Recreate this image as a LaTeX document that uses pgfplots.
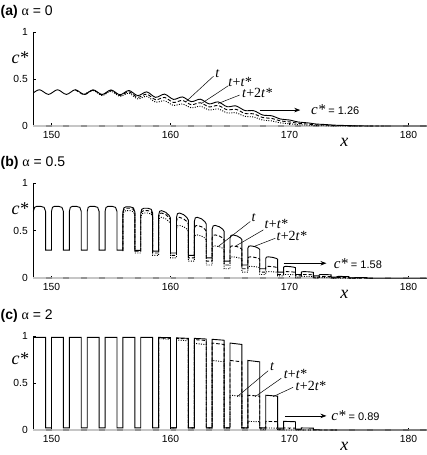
\documentclass[border=0pt]{standalone}
\usepackage{fontspec}
\setmainfont{Liberation Sans}
\newfontfamily\lserif{Liberation Serif}
\usepackage{pgfplots}
\pgfplotsset{compat=1.18}
\usepackage{pgfplotstable}
\usetikzlibrary{arrows.meta}

\pgfplotstableread{
x y
149.5 0
150 0
150 nan
151 0
151.5 0
151.5 nan
152.5 0
153 0
153 nan
154 0
154.5 0
154.5 nan
155.5 0
156 0
156 nan
157 0
157.5 0
157.5 nan
158.5 0
159 0
159 nan
160 0
160.5 0
160.5 nan
161.5 0
162 0
162 nan
163 0
163.5 0
163.5 nan
164.5 0
165 0
165 nan
166 0
166.5 0
166.5 nan
167.5 0
168 0
168 nan
169 0
169.5 0
169.5 nan
170.5 0
171 0
171 nan
172 0
172.5 0
172.5 nan
173.5 0
174 0
174 nan
175 0
175.5 0
175.5 nan
176.5 0
177 0
177 nan
178 0
178.5 0
178.5 nan
179.5 0
180 0
180 nan
181 0
181.5 0
}\basedash

\pgfplotsset{
  mypanel/.style={
    scale only axis, width=393.7pt,
    xmin=148.47, xmax=181.55, ymin=0, ymax=1, clip=false,
    axis lines*=left, x axis line style={draw=none},
    y axis line style={line width=0.5pt},
    xtick={150,160,170,180}, ytick={0,0.5,1},
    tick align=inside, major tick length=2.5pt,
    tick style={black, line width=0.4pt},
    ticklabel style={font=\fontsize{10.3}{12}\selectfont},
    /pgf/number format/assume math mode=true,
    xticklabel shift=1.5pt, yticklabel shift=2pt,
    anchor=south west, unbounded coords=jump,
  },
  solidc/.style={black, line width=0.9pt},
  dashc/.style={black, line width=0.9pt, dash pattern=on 3.5pt off 2pt},
  dotc/.style={black, line width=0.9pt, dash pattern=on 1pt off 1.4pt},
  base/.style={gray!45, line width=1.6pt},
  basedash/.style={gray!85, line width=1.6pt},
}
\tikzset{
  lead/.style={black, line width=0.5pt},
  arr/.style={-{Stealth[length=6pt,width=4.5pt]}, line width=0.7pt},
  lab/.style={font=\fontsize{14}{15}\selectfont\lserif, anchor=west, inner sep=0pt},
}
\newcommand{\cstar}[1]{{\fontsize{15}{16}\selectfont\lserif\itshape c*}{\fontsize{11}{12}\selectfont\ = #1}}

\begin{document}
\begin{tikzpicture}
\useasboundingbox (0,0) rectangle (427pt,455pt);

% ---------------- panel (a) ----------------
\begin{axis}[mypanel, at={(33.3pt,329pt)}, height=93.7pt]
\addplot[base] coordinates {(148.47,0) (181.55,0)};
\addplot[basedash] table {\basedash};
\addplot[solidc, smooth] coordinates {(148.47,.352)(149,.387)(149.75,.337)(150.5,.387)(151.25,.337)(152,.387)(152.75,.337)(153.5,.386)(154.25,.336)(155,.385)(155.75,.333)(156.5,.379)(157.25,.324)(158,.364)(158.75,.306)(159.5,.34)(160.25,.284)(161,.31)(161.75,.26)(162.5,.286)(163.25,.236)(164,.257)(164.75,.206)(165.5,.214)(166.25,.165)(167,.163)(167.75,.117)(168.5,.109)(169.25,.074)(170,.064)(170.75,.042)(171.5,.034)(172.25,.021)(173,.016)(173.75,.009)(174.5,.006)(175.25,.003)(176,.001)(177,0)(181.55,0)};
\addplot[dashc, smooth] coordinates {(152,.387)(152.75,.335)(153.5,.383)(154.25,.331)(155,.379)(155.75,.326)(156.5,.365)(157.25,.306)(158,.34)(158.75,.28)(159.5,.305)(160.25,.251)(161,.273)(161.75,.227)(162.5,.248)(163.25,.204)(164,.219)(164.75,.173)(165.5,.178)(166.25,.134)(167,.129)(167.75,.09)(168.5,.081)(169.25,.054)(170,.044)(170.75,.028)(171.5,.021)(172.25,.012)(173,.01)(173.75,.005)(174.5,.003)(175.25,.001)(176,0)(178,0)};
\addplot[dotc, smooth] coordinates {(152.75,.337)(153.5,.379)(154.25,.325)(155,.37)(155.75,.316)(156.5,.35)(157.25,.289)(158,.317)(158.75,.254)(159.5,.27)(160.25,.219)(161,.235)(161.75,.194)(162.5,.211)(163.25,.171)(164,.182)(164.75,.14)(165.5,.141)(166.25,.103)(167,.096)(167.75,.063)(168.5,.054)(169.25,.033)(170,.024)(170.75,.014)(171.5,.009)(172.25,.004)(173,.002)(173.75,0)(176,0)};
\draw[lead] (axis cs:163.6,0.53) -- (axis cs:161.3,0.26);
\draw[lead] (axis cs:164.86,0.43) -- (axis cs:162.6,0.24);
\draw[lead] (axis cs:165.8,0.33) -- (axis cs:164.0,0.24);
\node[lab] at (axis cs:163.75,0.56) {\textit{t}};
\node[lab] at (axis cs:164.85,0.475) {\textit{t}+\textit{t*}};
\node[lab] at (axis cs:166.0,0.355) {\textit{t}+2\textit{t*}};
\draw[arr] (axis cs:167.5,0.17) -- (axis cs:170.9,0.17);
\node[anchor=west, inner sep=0pt] at (axis cs:171.8,0.17) {\cstar{1.26}};
\node[font=\fontsize{18}{20}\selectfont\lserif\itshape] at (axis cs:174.6,0) [yshift=-16pt] {x};
\end{axis}

% ---------------- panel (b) ----------------
\begin{axis}[mypanel, at={(33.3pt,176.7pt)}, height=95.3pt]
\addplot[base] coordinates {(148.47,0) (181.55,0)};
\addplot[basedash] table {\basedash};
\addplot[solidc] coordinates {
(148.47,.702)(148.58,.744)(148.75,.755)(149.1,.755)(149.38,.744)(149.5,.702)(149.5,.295)(150,.295)
(150,.702)(150.08,.744)(150.25,.755)(150.6,.755)(150.88,.744)(151,.702)(151,.295)(151.5,.295)
(151.5,.702)(151.58,.744)(151.75,.755)(152.1,.755)(152.38,.744)(152.5,.702)(152.5,.295)(153,.295)
(153,.702)(153.08,.744)(153.25,.755)(153.6,.755)(153.88,.744)(154,.702)(154,.295)(154.5,.295)
(154.5,.702)(154.58,.744)(154.75,.755)(155.1,.755)(155.38,.744)(155.5,.702)(155.5,.295)(156,.295)
(156,.698)(156.08,.739)(156.25,.75)(156.6,.75)(156.88,.739)(157,.698)(157,.293)(157.5,.293)
(157.5,.684)(157.58,.724)(157.75,.735)(158.1,.735)(158.38,.724)(158.5,.684)(158.5,.285)(159,.285)
(159,.66)(159.08,.703)(159.25,.71)(159.6,.692)(159.88,.66)(160,.632)(160,.265)(160.5,.265)
(160.5,.637)(160.58,.678)(160.75,.685)(161.1,.668)(161.38,.637)(161.5,.61)(161.5,.24)(162,.24)
(162,.595)(162.08,.634)(162.25,.64)(162.6,.624)(162.88,.595)(163,.57)(163,.215)(163.5,.215)
(163.5,.516)(163.58,.549)(163.75,.555)(164.1,.541)(164.38,.516)(164.5,.494)(164.5,.18)(165,.18)
(165,.423)(165.08,.45)(165.25,.455)(165.6,.444)(165.88,.423)(166,.405)(166,.14)(166.5,.14)
(166.5,.316)(166.58,.337)(166.75,.34)(167.1,.332)(167.38,.316)(167.5,.303)(167.5,.1)(168,.1)
(168,.209)(168.08,.223)(168.25,.225)(168.6,.219)(168.88,.209)(169,.2)(169,.065)(169.5,.065)
(169.5,.116)(169.58,.124)(169.75,.125)(170.1,.122)(170.38,.116)(170.5,.111)(170.5,.04)(171,.04)
(171,.065)(171.08,.069)(171.25,.07)(171.6,.068)(171.88,.065)(172,.062)(172,.025)(172.5,.025)
(172.5,.037)(172.6,.04)(173.1,.039)(173.5,.036)(173.5,.012)(174,.012)
(174,.019)(174.2,.02)(175,.018)(175,.005)(175.5,.005)
(175.5,.008)(176.5,.007)(176.5,0)(181.55,0)};
\addplot[dashc] coordinates {
(156,.293)(156,.684)(156.08,.724)(156.25,.735)(156.6,.735)(156.88,.724)(157,.684)(157,.285)(157.5,.285)
(157.5,.66)(157.58,.699)(157.75,.71)(158.1,.71)(158.38,.699)(158.5,.66)(158.5,.265)(159,.265)
(159,.637)(159.08,.678)(159.25,.685)(159.6,.668)(159.88,.637)(160,.61)(160,.24)(160.5,.24)
(160.5,.595)(160.58,.634)(160.75,.64)(161.1,.624)(161.38,.595)(161.5,.57)(161.5,.215)(162,.215)
(162,.516)(162.08,.549)(162.25,.555)(162.6,.541)(162.88,.516)(163,.494)(163,.18)(163.5,.18)
(163.5,.423)(163.58,.45)(163.75,.455)(164.1,.444)(164.38,.423)(164.5,.405)(164.5,.14)(165,.14)
(165,.316)(165.08,.337)(165.25,.34)(165.6,.332)(165.88,.316)(166,.303)(166,.1)(166.5,.1)
(166.5,.209)(166.58,.223)(166.75,.225)(167.1,.219)(167.38,.209)(167.5,.2)(167.5,.065)(168,.065)
(168,.116)(168.08,.124)(168.25,.125)(168.6,.122)(168.88,.116)(169,.111)(169,.04)(169.5,.04)
(169.5,.065)(169.58,.069)(169.75,.07)(170.1,.068)(170.38,.065)(170.5,.062)(170.5,.025)(171,.025)
(171,.037)(171.1,.04)(171.6,.039)(172,.036)(172,.012)(172.5,.012)
(172.5,.019)(172.7,.02)(173.5,.018)(173.5,.005)(174,.005)
(174,.008)(175,.007)(175,0)(177,0)};
\addplot[dotc] coordinates {
(156,.285)(156,.66)(156.08,.699)(156.25,.71)(156.6,.71)(156.88,.699)(157,.66)(157,.265)(157.5,.265)
(157.5,.637)(157.58,.675)(157.75,.685)(158.1,.685)(158.38,.675)(158.5,.637)(158.5,.24)(159,.24)
(159,.595)(159.08,.634)(159.25,.64)(159.6,.624)(159.88,.595)(160,.57)(160,.215)(160.5,.215)
(160.5,.516)(160.58,.549)(160.75,.555)(161.1,.541)(161.38,.516)(161.5,.494)(161.5,.18)(162,.18)
(162,.423)(162.08,.45)(162.25,.455)(162.6,.444)(162.88,.423)(163,.405)(163,.14)(163.5,.14)
(163.5,.316)(163.58,.337)(163.75,.34)(164.1,.332)(164.38,.316)(164.5,.303)(164.5,.1)(165,.1)
(165,.209)(165.08,.223)(165.25,.225)(165.6,.219)(165.88,.209)(166,.2)(166,.065)(166.5,.065)
(166.5,.116)(166.58,.124)(166.75,.125)(167.1,.122)(167.38,.116)(167.5,.111)(167.5,.04)(168,.04)
(168,.065)(168.08,.069)(168.25,.07)(168.6,.068)(168.88,.065)(169,.062)(169,.025)(169.5,.025)
(169.5,.037)(169.6,.04)(170.1,.039)(170.5,.036)(170.5,.012)(171,.012)
(171,.019)(171.2,.02)(172,.018)(172,.005)(172.5,.005)
(172.5,.008)(173.5,.007)(173.5,0)(176,0)};
\draw[lead] (axis cs:166.7,0.596) -- (axis cs:164.0,0.333);
\draw[lead] (axis cs:167.8,0.508) -- (axis cs:165.4,0.333);
\draw[lead] (axis cs:168.8,0.42) -- (axis cs:167.0,0.333);
\node[lab] at (axis cs:166.8,0.635) {\textit{t}};
\node[lab] at (axis cs:167.9,0.565) {\textit{t}+\textit{t*}};
\node[lab] at (axis cs:168.9,0.44) {\textit{t}+2\textit{t*}};
\draw[arr] (axis cs:169.5,0.158) -- (axis cs:173.1,0.158);
\node[anchor=west, inner sep=0pt] at (axis cs:173.7,0.158) {\cstar{1.58}};
\node[font=\fontsize{18}{20}\selectfont\lserif\itshape] at (axis cs:174.6,0) [yshift=-16pt] {x};
\end{axis}

% ---------------- panel (c) ----------------
\begin{axis}[mypanel, at={(33.3pt,25pt)}, height=94pt]
\addplot[base] coordinates {(148.47,0) (181.55,0)};
\addplot[basedash] table {\basedash};
\addplot[solidc] coordinates {
(148.47,.985)(149.5,.985)(149.5,.022)(150,.022)
(150,.985)(151,.985)(151,.022)(151.5,.022)
(151.5,.985)(152.5,.985)(152.5,.022)(153,.022)
(153,.985)(154,.985)(154,.022)(154.5,.022)
(154.5,.985)(155.5,.985)(155.5,.022)(156,.022)
(156,.985)(157,.985)(157,.022)(157.5,.022)
(157.5,.985)(158.5,.985)(158.5,.022)(159,.022)
(159,.985)(160,.983)(160,.022)(160.5,.022)
(160.5,.98)(161.5,.975)(161.5,.022)(162,.022)
(162,.975)(163,.968)(163,.022)(163.5,.022)
(163.5,.965)(164.5,.955)(164.5,.022)(165,.022)
(165,.925)(166,.91)(166,.022)(166.5,.022)
(166.5,.74)(167.5,.725)(167.5,.022)(168,.022)
(168,.37)(169,.36)(169,.02)(169.5,.02)
(169.5,.092)(170.5,.088)(170.5,.01)(171,.01)
(171,.022)(172,.02)(172,.003)(172.5,.003)
(172.5,0)(181.55,0)};
\addplot[dashc] coordinates {
(159,.022)(159,.98)(160,.975)(160,.022)(160.5,.022)
(160.5,.975)(161.5,.968)(161.5,.022)(162,.022)
(162,.962)(163,.952)(163,.022)(163.5,.022)
(163.5,.925)(164.5,.91)(164.5,.022)(165,.022)
(165,.74)(166,.725)(166,.022)(166.5,.022)
(166.5,.37)(167.5,.36)(167.5,.02)(168,.02)
(168,.092)(169,.088)(169,.01)(169.5,.01)
(169.5,.022)(170.5,.02)(170.5,.003)(171,.003)(171,0)(174,0)};
\addplot[dotc] coordinates {
(159,.022)(159,.972)(160,.965)(160,.022)(160.5,.022)
(160.5,.958)(161.5,.948)(161.5,.022)(162,.022)
(162,.922)(163,.908)(163,.022)(163.5,.022)
(163.5,.74)(164.5,.725)(164.5,.022)(165,.022)
(165,.37)(166,.36)(166,.02)(166.5,.02)
(166.5,.092)(167.5,.088)(167.5,.01)(168,.01)
(168,.022)(169,.02)(169,.003)(169.5,.003)(169.5,0)(172,0)};
\draw[lead] (axis cs:168.2,0.63) -- (axis cs:165.6,0.354);
\draw[lead] (axis cs:169.3,0.55) -- (axis cs:167.1,0.354);
\draw[lead] (axis cs:170.3,0.454) -- (axis cs:168.6,0.354);
\node[lab] at (axis cs:168.35,0.675) {\textit{t}};
\node[lab] at (axis cs:169.5,0.6) {\textit{t}+\textit{t*}};
\node[lab] at (axis cs:170.5,0.468) {\textit{t}+2\textit{t*}};
\draw[arr] (axis cs:169.6,0.15) -- (axis cs:173.1,0.15);
\node[anchor=west, inner sep=0pt] at (axis cs:173.5,0.15) {\cstar{0.89}};
\node[font=\fontsize{18}{20}\selectfont\lserif\itshape] at (axis cs:174.6,0) [yshift=-16pt] {x};
\end{axis}

% titles and y labels
\node[anchor=west, inner sep=0pt, font=\fontsize{14}{16}\selectfont] at (0.5pt,443pt) {\textbf{(a)} {\lserif α} = 0};
\node[anchor=west, inner sep=0pt, font=\fontsize{14}{16}\selectfont] at (0.5pt,292.5pt) {\textbf{(b)} {\lserif α} = 0.5};
\node[anchor=west, inner sep=0pt, font=\fontsize{14}{16}\selectfont] at (0.5pt,139pt) {\textbf{(c)} {\lserif α} = 2};
\node[font=\fontsize{18}{20}\selectfont\lserif\itshape] at (20pt,397pt) {c*};
\node[font=\fontsize{18}{20}\selectfont\lserif\itshape] at (20pt,246pt) {c*};
\node[font=\fontsize{18}{20}\selectfont\lserif\itshape] at (20pt,96pt) {c*};
\end{tikzpicture}
\end{document}
